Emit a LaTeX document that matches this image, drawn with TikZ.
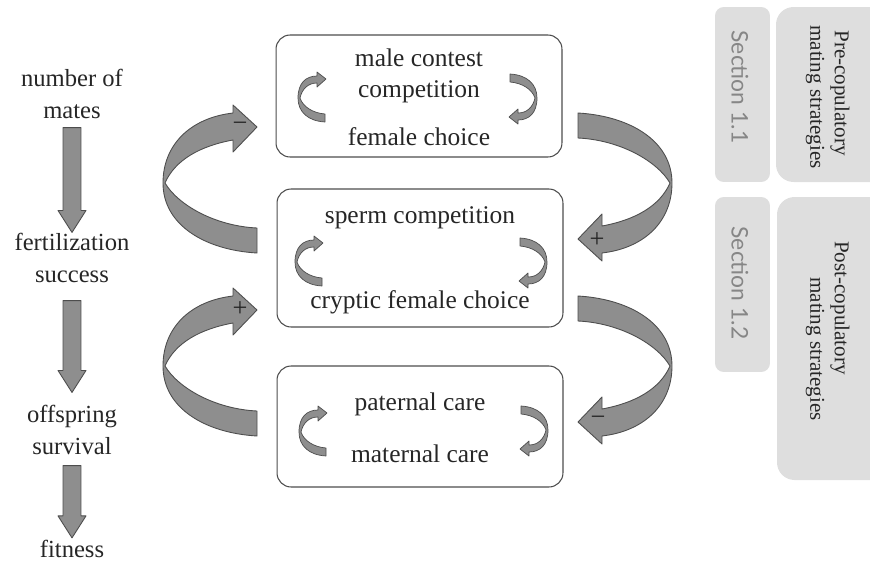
\documentclass[tikz,border=0pt]{standalone}
\usepackage{fontspec}
\setmainfont{Liberation Serif}
\newfontfamily\timesface{Liberation Serif}
\newfontfamily\secfont{Lato}
\usetikzlibrary{calc,positioning}
\definecolor{ink}{HTML}{262626}
\definecolor{rim}{HTML}{4D4D4D}
\definecolor{ribbon}{HTML}{8E8E8E}
\definecolor{tab}{HTML}{DEDEDE}
\definecolor{tabtext}{HTML}{868686}
% fat down arrow between two anchors
\newcommand{\blockarrow}[2]{%
  \draw[blockfill] let \p1=(#1), \p2=(#2) in
    (\x1-0.18cm,\y1) -- (\x1+0.18cm,\y1) -- (\x1+0.18cm,\y2+0.44cm)
    -- (\x1+0.28cm,\y2+0.44cm) -- (\x1,\y2) -- (\x1-0.28cm,\y2+0.44cm)
    -- (\x1-0.18cm,\y2+0.44cm) -- cycle;}
\tikzset{
  blockfill/.style={draw=rim,fill=ribbon,line width=0.5pt,line join=round},
  sidetext/.style={text=ink,font=\timesface\fontsize{14}{18.7}\selectfont,inner sep=0pt,align=center},
  boxtext/.style={text=ink,font=\timesface\fontsize{14.5}{19}\selectfont,inner sep=0pt,anchor=base},
  stagebox/.style={draw=rim,line width=0.6pt,rounded corners=8pt,minimum width=5.72cm},
  signlabel/.style={text=ink,font=\timesface\fontsize{15}{16}\selectfont,inner sep=0pt},
  tablabel/.style={text=tabtext,font=\secfont\fontsize{13}{16}\selectfont,rotate=-90,inner sep=0pt},
  stratlabel/.style={text=ink,font=\timesface\fontsize{12}{14}\selectfont,rotate=-90,inner sep=0pt},
  pics/bigturn/.style={code={
    \draw[blockfill] (0,0) .. controls (0,-38) and (27,-65) .. (70,-70) -- (70,-78)
      -- (94,-56) -- (70,-31) -- (70,-43) .. controls (37,-37) and (12,-23) .. (2,0)
      .. controls (15,22) and (52,43) .. (94,45) -- (94,70)
      .. controls (42,67) and (0,42) .. cycle;
  }},
  pics/smallturn/.style={code={
    \draw[blockfill,line width=0.4pt] (0,0) .. controls (0,-15) and (8,-22) .. (19,-22)
      -- (19,-26) -- (28,-19) -- (19,-11) -- (19,-15) .. controls (10,-15) and (4,-9) .. (2,0)
      .. controls (5,9) and (15,15) .. (27,16) -- (27,24)
      .. controls (10,23) and (0,14) .. cycle;
  }}
}

\begin{document}
\begin{tikzpicture}[x=0.02cm,y=-0.02cm]
  \useasboundingbox (0,0) rectangle (870,569);
  % left column
  \node[sidetext] (mates) at (72,94) {number of\\mates};
  \node[sidetext] (fert) at (72,258) {fertilization\\success};
  \node[sidetext] (offs) at (72,430) {offspring\\survival};
  \node[sidetext] (fit) at (72,549) {fitness};
  \blockarrow{[yshift=-0.16cm]mates.south}{fert.north}
  \blockarrow{[yshift=-0.34cm]fert.south}{[yshift=0.24cm]offs.north}
  \blockarrow{[yshift=-0.2cm]offs.south}{[yshift=0.04cm]fit.north}
  % boxes
  \node[stagebox,minimum height=2.44cm] (precop) at (419,96) {};
  \node[stagebox,minimum height=2.76cm] (postcop) at (420,258) {};
  \node[stagebox,minimum height=2.42cm] (care) at (420,426.5) {};
  \node[boxtext] (contest) at (419,66) {male contest};
  \node[boxtext] (compet) at (419,97) {competition};
  \node[boxtext] (choice) at (419,145) {female choice};
  \node[boxtext] (sperm) at (420,223) {sperm competition};
  \node[boxtext] (cryptic) at (420,308) {cryptic female choice};
  \node[boxtext] (paternal) at (420,410) {paternal care};
  \node[boxtext] (maternal) at (420,462) {maternal care};
  % small turns inside boxes
  \pic at (298,98) {smallturn};
  \pic[rotate=180] at (537,98) {smallturn};
  \pic at (295,262) {smallturn};
  \pic[rotate=180] at (547,262) {smallturn};
  \pic at (299,432) {smallturn};
  \pic[rotate=180] at (548,430) {smallturn};
  % big feedback ribbons
  \pic at (163,183) {bigturn};
  \pic at (163,366) {bigturn};
  \pic[rotate=180] at (672,183) {bigturn};
  \pic[rotate=180] at (672,366) {bigturn};
  \node[signlabel] (s1) at (240,127) {−};
  \node[signlabel] (s2) at (240,309) {+};
  \node[signlabel] (s3) at (597,240) {+};
  \node[signlabel] (s4) at (598,421) {−};
  % section tabs
  \node[fill=tab,rounded corners=5pt,minimum width=3.5cm,minimum height=1.1cm,rotate=-90] (sec1) at (742.5,94.5) {};
  \node[fill=tab,rounded corners=5pt,minimum width=3.5cm,minimum height=1.1cm,rotate=-90] (sec2) at (742.5,284.5) {};
  \node[tablabel] (sec1txt) at (740,87) {Section 1.1};
  \node[tablabel] (sec2txt) at (740,283) {Section 1.2};
  \fill[tab,rounded corners=10pt] (900,182) -- (776,182) -- (776,7) -- (900,7) -- cycle;
  \fill[tab,rounded corners=10pt] (900,480) -- (777,480) -- (777,197) -- (900,197) -- cycle;
  \node[stratlabel] (pre1) at (840,93) {Pre-copulatory};
  \node[stratlabel] (pre2) at (815,97) {mating strategies};
  \node[stratlabel] (post1) at (840,308) {Post-copulatory};
  \node[stratlabel] (post2) at (815,349) {mating strategies};
\end{tikzpicture}
\end{document}
